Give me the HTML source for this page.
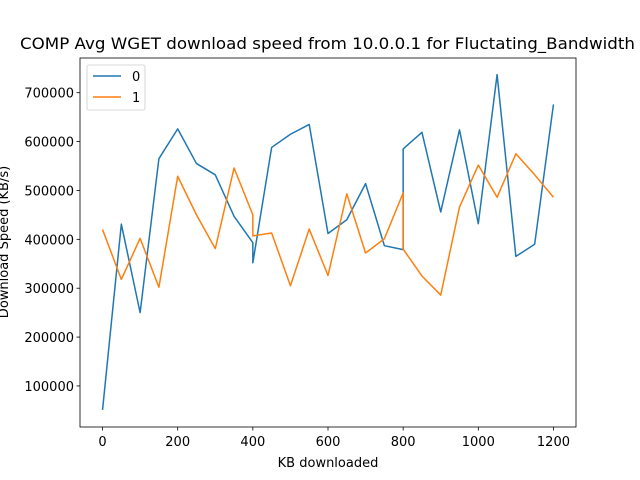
<!DOCTYPE html>
<html><head><meta charset="utf-8"><style>body{margin:0;background:#fff}svg{display:block;font-family:"DejaVu Sans","Liberation Sans",sans-serif}</style></head>
<body>
<svg id="chart" width="640" height="480" xmlns="http://www.w3.org/2000/svg"></svg>
<script>
const xs = [0,50,100,150,200,250,300,350,400,400,450,500,550,600,650,700,750,800,800,850,900,950,1000,1050,1100,1150,1200];
const series0 = [51000,431000,250000,565000,626000,555000,532000,447000,393000,352000,588000,615000,635000,412000,440000,514000,387000,379000,585000,619000,456000,624000,432000,737000,365000,390000,676000];
const series1 = [420000,318000,402000,302000,529000,450000,381000,546000,450000,407000,413000,305000,421000,326000,493000,372000,401000,495000,380000,325000,286000,466000,552000,486000,575000,532000,486000];
const xTicks = [0,200,400,600,800,1000,1200];
const yTicks = [100000,200000,300000,400000,500000,600000,700000];
const seriesNames = ["0","1"];
const colors = ["#1f77b4","#ff7f0e"];
const L=80,R=576,T=58,B=427;
const xMin=-60,xMax=1260,yMin=16000,yMax=771000;
const X=v=>L+(v-xMin)/(xMax-xMin)*(R-L);
const Y=v=>B-(v-yMin)/(yMax-yMin)*(B-T);
const svg=document.getElementById('chart');
const NS="http://www.w3.org/2000/svg";
function mk(t,a){const e=document.createElementNS(NS,t);for(const k in a)e.setAttribute(k,a[k]);svg.appendChild(e);return e;}
[series0,series1].forEach((s,i)=>{
  const p=mk('polyline',{points:s.map((v,j)=>X(xs[j])+','+Y(v)).join(' '),fill:'none',stroke:colors[i],'stroke-width':1.5,'stroke-linejoin':'round'});
  
  
});
const fr=mk('rect',{x:L,y:T,width:R-L,height:B-T,fill:'none',stroke:'#000','stroke-width':0.8});


xTicks.forEach(v=>{
  const l=mk('line',{x1:X(v),x2:X(v),y1:B,y2:B+3.5,stroke:'#000','stroke-width':0.8});
  
  
  const t=mk('text',{x:X(v),y:B+19,'text-anchor':'middle','font-size':'13px'});
  t.textContent=v;
  
  
});
yTicks.forEach(v=>{
  const l=mk('line',{x1:L-3.5,x2:L,y1:Y(v),y2:Y(v),stroke:'#000','stroke-width':0.8});
  
  
  const t=mk('text',{x:L-6,y:Y(v)+5,'text-anchor':'end','font-size':'13px'});
  t.textContent=v;
  
  
});
let t=mk('text',{x:328,y:467,'text-anchor':'middle','font-size':'13px'});t.textContent='KB downloaded';


t=mk('text',{x:0,y:0,'text-anchor':'middle','font-size':'13px',transform:'translate(8,242) rotate(-90)'});t.textContent='Download Speed (KB/s)';


t=mk('text',{x:20,y:49,'font-size':'16px',textLength:'615',lengthAdjust:'spacingAndGlyphs'});t.textContent='COMP Avg WGET download speed from 10.0.0.1 for Fluctating_Bandwidth';


const lg=mk('rect',{x:87,y:65,width:58,height:45,rx:2,fill:'#fff','fill-opacity':0.8,stroke:'#ccc','stroke-width':0.8});


seriesNames.forEach((n,i)=>{
  const y=76+i*21;
  const l=mk('line',{x1:93,x2:121,y1:y,y2:y,stroke:colors[i],'stroke-width':1.5});
  
  
  const tt=mk('text',{x:132,y:y+5,'font-size':'13px'});tt.textContent=n;
  
  
});
</script>
</body></html>
